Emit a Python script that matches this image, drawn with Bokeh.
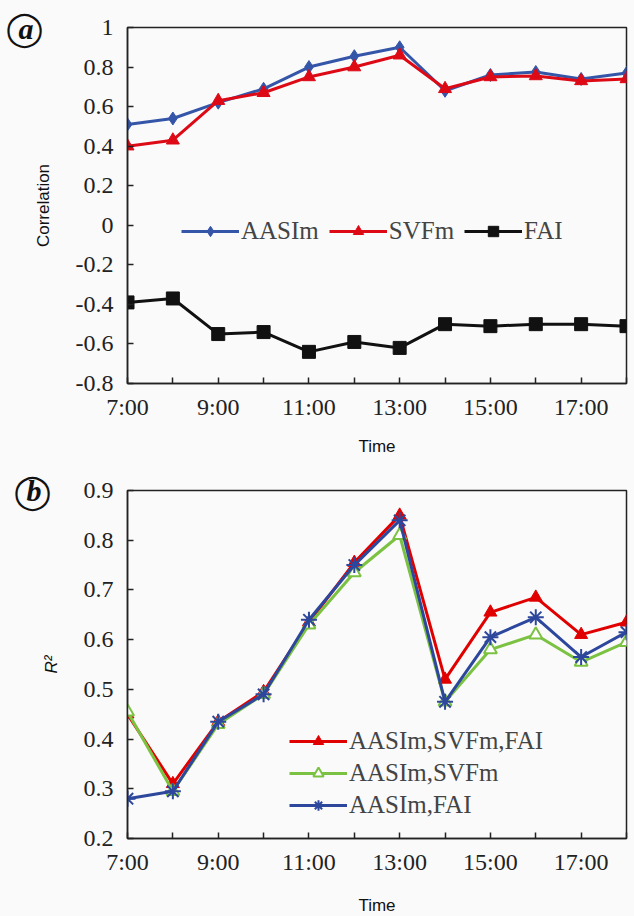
from bokeh.plotting import figure
from bokeh.layouts import column
from bokeh.models import (FixedTicker, CustomJSTickFormatter, Legend, LegendItem, Range1d, LinearAxis)
from bokeh.embed import file_html
from bokeh.resources import INLINE

hours = [7, 8, 9, 10, 11, 12, 13, 14, 15, 16, 17, 18]

# panel a: correlation
aasim = [0.51, 0.54, 0.62, 0.69, 0.80, 0.855, 0.90, 0.68, 0.76, 0.775, 0.74, 0.77]
svfm = [0.40, 0.43, 0.63, 0.67, 0.75, 0.80, 0.86, 0.69, 0.75, 0.755, 0.73, 0.74]
fai = [-0.39, -0.37, -0.55, -0.54, -0.64, -0.59, -0.62, -0.50, -0.51, -0.50, -0.50, -0.51]

# panel b: R2
r2_all = [0.45, 0.31, 0.435, 0.495, 0.635, 0.755, 0.85, 0.52, 0.655, 0.685, 0.61, 0.635]
r2_as = [0.455, 0.295, 0.43, 0.49, 0.63, 0.735, 0.81, 0.475, 0.58, 0.61, 0.555, 0.595]
r2_af = [0.28, 0.295, 0.435, 0.49, 0.64, 0.75, 0.84, 0.475, 0.605, 0.645, 0.565, 0.615]

ya_ticks = [-0.8, -0.6, -0.4, -0.2, 0, 0.2, 0.4, 0.6, 0.8, 1.0]
yb_ticks = [0.2, 0.3, 0.4, 0.5, 0.6, 0.7, 0.8, 0.9]

SERIF = "Liberation Serif"
SANS = "Liberation Sans"
BG = "#fafafa"


def style_axis(axs):
    axs.major_tick_in = 6
    axs.major_tick_out = 0
    axs.minor_tick_line_color = None
    axs.axis_line_color = "#222222"
    axs.axis_line_width = 1.5
    axs.major_tick_line_color = "#222222"
    axs.major_tick_line_width = 1.5
    axs.major_label_text_font = SERIF
    axs.major_label_text_font_size = "24px"
    axs.major_label_text_color = "#222222"
    axs.axis_label_text_font = SANS
    axs.axis_label_text_font_size = "17px"
    axs.axis_label_text_font_style = "normal"
    axs.axis_label_text_color = "#111111"


def base(height, top, bottom, yr, yticks, ylabel, xlab_standoff, italic=False):
    p = figure(width=634, height=height, output_backend="svg", toolbar_location=None,
               x_range=Range1d(7, 18), y_range=Range1d(*yr),
               min_border_left=127, min_border_right=8, min_border_top=top,
               min_border_bottom=bottom)
    p.frame_width = 499
    p.frame_height = height - top - bottom
    p.background_fill_color = BG
    p.border_fill_color = BG
    p.outline_line_color = "#222222"
    p.outline_line_width = 1.5
    p.xgrid.visible = False
    p.ygrid.visible = False
    p.xaxis.ticker = FixedTicker(ticks=hours)
    p.xaxis.formatter = CustomJSTickFormatter(code="return (tick % 2 == 1) ? tick + ':00' : '';")
    p.yaxis.ticker = FixedTicker(ticks=yticks)
    p.yaxis.formatter = CustomJSTickFormatter(code="return (Math.round(tick*10)/10).toString();")
    style_axis(p.xaxis)
    style_axis(p.yaxis)
    p.xaxis.major_label_standoff = 10
    p.yaxis.major_label_standoff = 14
    p.xaxis.axis_label = "Time"
    p.xaxis.axis_label_standoff = xlab_standoff
    p.yaxis.axis_label = ylabel
    p.yaxis.axis_label_standoff = 20
    if italic:
        p.yaxis.axis_label_text_font_style = "italic"
    return p


def panel_label(p, letter, yval):
    # letter as the tick label of an extra, line-less axis in the left border
    ax_l = LinearAxis(ticker=FixedTicker(ticks=[yval]),
                      formatter=CustomJSTickFormatter(code="return '%s';" % letter),
                      axis_line_color=None, major_tick_line_color=None,
                      minor_tick_line_color=None, major_tick_out=0, major_tick_in=0,
                      major_label_standoff=-3,
                      major_label_text_font=SERIF, major_label_text_font_style="bold italic",
                      major_label_text_font_size="30px", major_label_text_color="#111111")
    p.add_layout(ax_l, "left")
    # ring around the letter, drawn as a circle character
    ax_c = LinearAxis(ticker=FixedTicker(ticks=[yval]),
                      formatter=CustomJSTickFormatter(code="return '\u25ef';"),
                      axis_line_color=None, major_tick_line_color=None,
                      minor_tick_line_color=None, major_tick_out=0, major_tick_in=0,
                      major_label_standoff=-28,
                      major_label_text_font="DejaVu Sans",
                      major_label_text_font_size="34px", major_label_text_color="#111111")
    p.add_layout(ax_c, "left")


# ---------- panel a ----------
pa = base(460, 27, 77, (-0.8, 1.0), ya_ticks, "Correlation", 14)
BLUE = "#3556a8"
RED = "#dd0a16"
la = pa.line(hours, aasim, line_color=BLUE, line_width=3)
sa = pa.scatter(hours, aasim, marker="diamond", size=13, color=BLUE)
lr = pa.line(hours, svfm, line_color=RED, line_width=3)
sr = pa.scatter(hours, svfm, marker="triangle", size=13, color=RED)
lk = pa.line(hours, fai, line_color="#111111", line_width=3)
sk = pa.scatter(hours, fai, marker="square", size=13, color="#111111")
leg_a = Legend(items=[LegendItem(label="AASIm", renderers=[la, sa]),
                      LegendItem(label="SVFm", renderers=[lr, sr]),
                      LegendItem(label="FAI", renderers=[lk, sk])],
               orientation="horizontal", location=(54, 138),
               background_fill_alpha=0, border_line_color=None,
               label_text_font=SERIF, label_text_font_size="25px",
               glyph_width=58, glyph_height=26, spacing=10, label_standoff=2,
               padding=4, margin=0)
pa.add_layout(leg_a)
panel_label(pa, "a", 0.995)

# ---------- panel b ----------
pb = base(456, 30, 78, (0.2, 0.9), yb_ticks, "R²", 18, italic=True)
RED2 = "#e00000"
GREEN = "#7cc242"
BLUE2 = "#2d479c"
l1 = pb.line(hours, r2_all, line_color=RED2, line_width=3)
s1 = pb.scatter(hours, r2_all, marker="triangle", size=13, color=RED2)
l2 = pb.line(hours, r2_as, line_color=GREEN, line_width=3)
s2 = pb.scatter(hours, r2_as, marker="triangle", size=13, line_color=GREEN,
                fill_color="white", line_width=2)
l3 = pb.line(hours, r2_af, line_color=BLUE2, line_width=3)
s3 = pb.scatter(hours, r2_af, marker="asterisk", size=16, line_color=BLUE2, line_width=2)
leg_b = Legend(items=[LegendItem(label="AASIm,SVFm,FAI", renderers=[l1, s1]),
                      LegendItem(label="AASIm,SVFm", renderers=[l2, s2]),
                      LegendItem(label="AASIm,FAI", renderers=[l3, s3])],
               orientation="vertical", location=(162, 19),
               background_fill_alpha=0, border_line_color=None,
               label_text_font=SERIF, label_text_font_size="25px",
               glyph_width=58, glyph_height=26, spacing=4, label_standoff=2,
               padding=4, margin=0)
pb.add_layout(leg_b)
panel_label(pb, "b", 0.9)

layout = column(pa, pb, spacing=0, styles={"background-color": BG})
open("out.html", "w").write(file_html(layout, INLINE))
